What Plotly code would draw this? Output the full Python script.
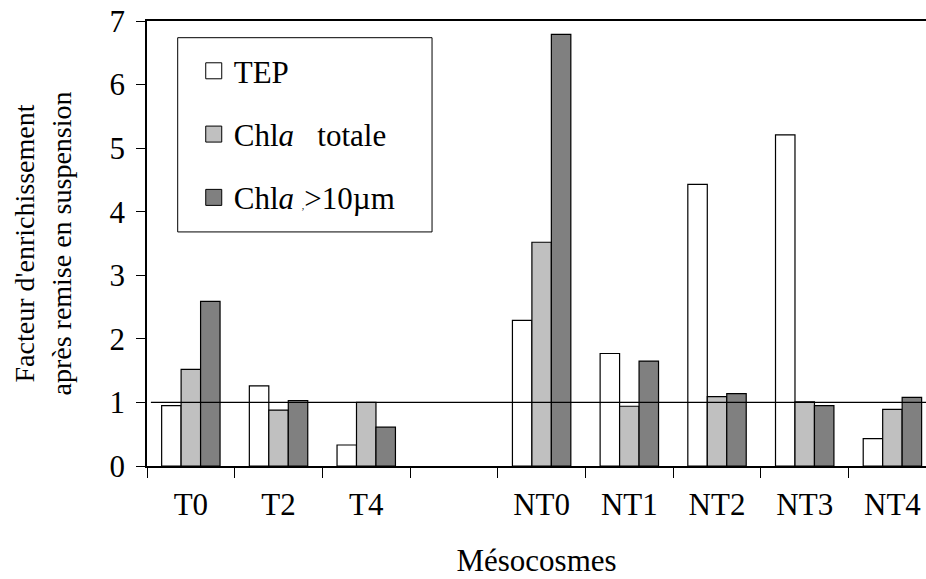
import plotly.graph_objects as go

# Facteur d'enrichissement après remise en suspension, par mésocosme
mesocosmes = ["T0", "T2", "T4", " ", "NT0", "NT1", "NT2", "NT3", "NT4"]
tep = [0.95, 1.26, 0.33, None, 2.29, 1.77, 4.43, 5.21, 0.43]
chla_totale = [1.52, 0.88, 1.00, None, 3.52, 0.94, 1.09, 1.01, 0.89]
chla_10um = [2.59, 1.03, 0.61, None, 6.79, 1.65, 1.14, 0.95, 1.08]

series = [
    ("TEP", tep, "white"),
    ("Chl<i>a</i>   totale", chla_totale, "#c0c0c0"),
    ("Chl<i>a</i> <span style='font-size:10px'>,</span>&gt;10µm", chla_10um, "#808080"),
]

serif = "Liberation Serif"
black = dict(family=serif, size=31, color="black")

fig = go.Figure()
for i, (name, vals, color) in enumerate(series):
    fig.add_trace(go.Bar(x=mesocosmes, y=vals, name=name, showlegend=False,
                         marker=dict(color=color, line=dict(color="black", width=1.2))))
    # entrée de légende avec un carré plus grand
    fig.add_trace(go.Scatter(x=[None], y=[None], mode="markers", name=name,
                             legendgroup=str(i),
                             marker=dict(symbol="square", size=16, color=color,
                                         line=dict(color="black", width=1))))

# ligne de référence à 1
fig.add_shape(type="line", xref="paper", yref="y", x0=0.005, x1=1, y0=1, y1=1,
              line=dict(color="black", width=1.2), layer="above")
# cadre de la légende
fig.add_shape(type="rect", xref="paper", yref="paper", x0=0.0394, x1=0.3659,
              y0=0.526, y1=0.9625, line=dict(color="black", width=1), layer="above")

fig.update_layout(
    width=926, height=579,
    margin=dict(l=147, r=0, t=21, b=113),
    plot_bgcolor="white", paper_bgcolor="white",
    font=black,
    barmode="group", bargap=0.334, bargroupgap=0,
    legend=dict(x=0.06, y=0.948, xanchor="left", yanchor="top",
                bgcolor="rgba(0,0,0,0)", borderwidth=0,
                traceorder="grouped", tracegroupgap=20, font=black),
    xaxis=dict(type="category", range=[-0.5, 8.383], tickson="boundaries",
               ticks="outside", ticklen=10, tickcolor="black", tickwidth=1.2,
               showline=True, linecolor="black", linewidth=1.5, mirror=True,
               showgrid=False, automargin=False, ticklabelstandoff=10,
               tickfont=black,
               title=dict(text="Mésocosmes", standoff=28, font=black)),
    yaxis=dict(range=[0, 7], dtick=1, ticks="outside", ticklen=9, tickcolor="black",
               tickwidth=1.2, showline=True, linecolor="black", linewidth=1.5,
               showgrid=False, zeroline=False, automargin=False,
               ticklabeloverflow="allow", ticklabelstandoff=5,
               tickfont=black,
               title=dict(text="Facteur d'enrichissement<br>après remise en suspension",
                          font=dict(family=serif, size=28, color="black"), standoff=30)),
)

fig.write_html("out.html", config={"displayModeBar": False},
               post_script="document.body.style.margin='0';")
